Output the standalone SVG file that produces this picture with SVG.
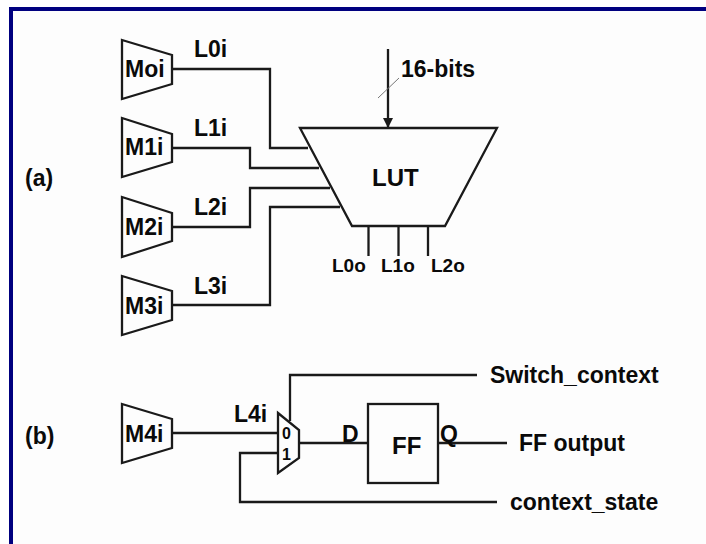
<svg xmlns="http://www.w3.org/2000/svg" width="706" height="544" viewBox="0 0 706 544">
<defs>
<style>
.s{fill:none;stroke:#1a1a1a;stroke-width:2.300;stroke-linejoin:miter}
.n{fill:#fdfdfd;stroke:#1a1a1a;stroke-width:2.300}
text{font-family:"Liberation Sans",Arial,sans-serif;font-weight:bold;fill:#0a0a0a;font-size:23px}
.sm{font-size:19px}
.big{font-size:24px}
.mx{font-size:16px}
</style>
<marker id="ah" markerUnits="userSpaceOnUse" markerWidth="10" markerHeight="10" refX="10" refY="5" orient="auto"><path d="M0,0 L10,5 L0,10 Z" fill="#1a1a1a"/></marker>
</defs>
<rect width="706" height="544" fill="#fdfdfd"/>
<rect x="0" y="0" width="706" height="7" fill="#ffffff"/>
<rect x="0" y="0" width="9" height="544" fill="#ffffff"/>
<path d="M9,544 V7 H706 V11 H13 V544 Z" fill="#00007f"/>
<g id="connectors">
<path class="s" d="M172,69 H270 V148 H308"/>
<path class="s" d="M172,148 H250 V168 H319"/>
<path class="s" d="M172,227 H250 V188 H330"/>
<path class="s" d="M172,305 H270 V207 H340"/>
<path class="s" d="M388,49 V128" marker-end="url(#ah)"/>
<path d="M378,98 L399,78" fill="none" stroke="#777" stroke-width="1"/>
<path class="s" d="M368.500,227 V256"/>
<path class="s" d="M398.500,227 V256"/>
<path class="s" d="M428,227 V256"/>
<path class="s" d="M172,433 H278"/>
<path class="s" d="M278,453 H240 V502 H497"/>
<path class="s" d="M290,421 V375 H477"/>
<path class="s" d="M299,443 H368"/>
<path class="s" d="M438,443 H507"/>
</g>
<g id="m0"><polygon class="n" points="122,40 172,55 172,84 122,99"/><text x="125" y="77">Moi</text></g>
<g id="m1"><polygon class="n" points="122,118 172,134 172,162 122,177"/><text x="125" y="155">M1i</text></g>
<g id="m2"><polygon class="n" points="122,197 172,213 172,241 122,257"/><text x="125" y="235">M2i</text></g>
<g id="m3"><polygon class="n" points="122,276 172,291 172,320 122,335"/><text x="125" y="314">M3i</text></g>
<g id="m4"><polygon class="n" points="122,404 172,419 172,448 122,463"/><text x="125" y="442">M4i</text></g>
<g id="lut"><polygon class="n" points="300,128 497,128 445,226 352,226"/><text class="big" x="372" y="186">LUT</text></g>
<g id="mux"><polygon class="n" points="278,413 299,430 299,458 278,473"/><text class="mx" x="282" y="439">0</text><text class="mx" x="282" y="460">1</text></g>
<g id="ff"><rect class="n" x="368" y="404" width="70" height="79"/><text class="big" x="392" y="454">FF</text></g>
<g id="labels">
<text x="194" y="57">L0i</text>
<text x="194" y="136">L1i</text>
<text x="194" y="215">L2i</text>
<text x="194" y="294">L3i</text>
<text x="234" y="422">L4i</text>
<text x="25" y="186">(a)</text>
<text x="25" y="444">(b)</text>
<text x="401" y="77">16-bits</text>
<text class="sm" x="332" y="272">L0o</text>
<text class="sm" x="381" y="272">L1o</text>
<text class="sm" x="431" y="272">L2o</text>
<text x="342" y="442">D</text>
<text x="440" y="442">Q</text>
<text x="490" y="383">Switch_context</text>
<text x="519" y="451">FF output</text>
<text x="510" y="510">context_state</text>
</g>
</svg>
